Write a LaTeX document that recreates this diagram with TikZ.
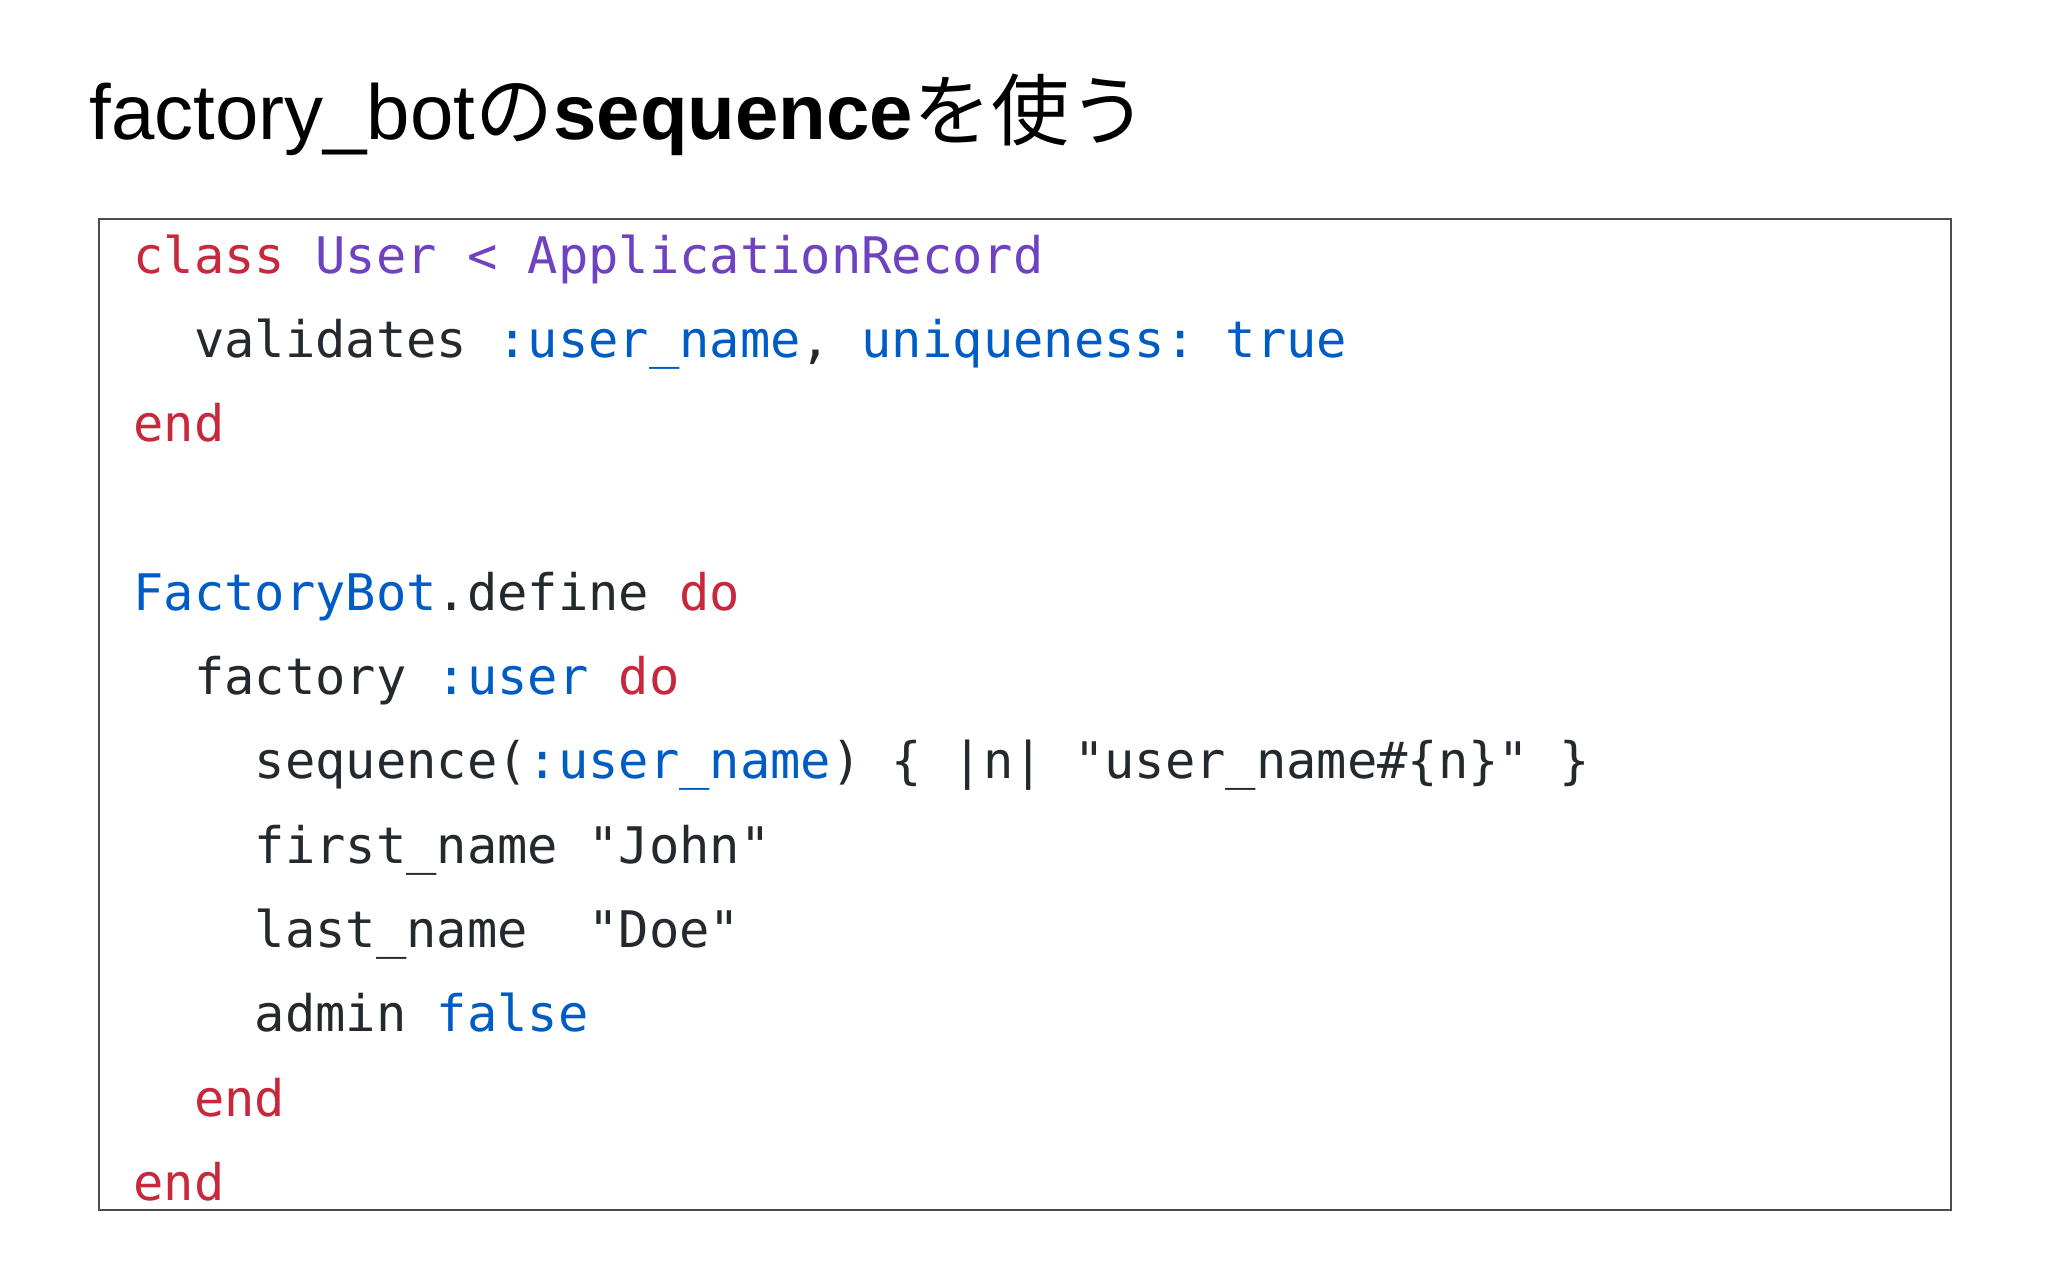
\documentclass[tikz,border=0pt]{standalone}
\usepackage{fontspec}
\setmainfont{Liberation Sans}
\setmonofont{DejaVu Sans Mono}
\newfontfamily\cjk{Noto Sans CJK JP}
\definecolor{kred}{HTML}{C8283C}
\definecolor{kpur}{HTML}{6F42C1}
\definecolor{kblu}{HTML}{005CC5}
\definecolor{ktxt}{HTML}{24292E}
\newcommand{\kR}[1]{\textcolor{kred}{#1}}
\newcommand{\kP}[1]{\textcolor{kpur}{#1}}
\newcommand{\kB}[1]{\textcolor{kblu}{#1}}
\begin{document}
\begin{tikzpicture}[x=0.5pt,y=-0.5pt,
  codeline/.style={anchor=base west,inner sep=0,text=ktxt,font=\fontsize{25.2}{30}\ttfamily}]
\useasboundingbox[fill=white] (0,0) rectangle (2048,1280);
\node[anchor=base west,inner sep=0,font=\fontsize{39}{47}\selectfont] (title) at (89,139)
  {factory\_bot{\cjk の}\textbf{sequence}{\cjk を使う}};
\node[draw=black!70,line width=1pt,minimum width=926pt,minimum height=495.5pt,anchor=north west,inner sep=0] (box) at (98,218) {};
\def\X{133}
\node[codeline] (l1) at (\X,273) {\kR{class}\ \kP{User}\ \kP{<}\ \kP{ApplicationRecord}};
\node[codeline] (l2) at (\X,357) {\ \ validates\ \kB{:user\_name},\ \kB{uniqueness:}\ \kB{true}};
\node[codeline] (l3) at (\X,441) {\kR{end}};
\node[codeline] (l5) at (\X,610) {\kB{FactoryBot}.define\ \kR{do}};
\node[codeline] (l6) at (\X,694) {\ \ factory\ \kB{:user}\ \kR{do}};
\node[codeline] (l7) at (\X,778) {\ \ \ \ sequence(\kB{:user\_name})\ \{\ |n|\ "user\_name\#\{n\}"\ \}};
\node[codeline] (l8) at (\X,863) {\ \ \ \ first\_name\ "John"};
\node[codeline] (l9) at (\X,947) {\ \ \ \ last\_name\ \ "Doe"};
\node[codeline] (l10) at (\X,1031) {\ \ \ \ admin\ \kB{false}};
\node[codeline] (l11) at (\X,1116) {\ \ \kR{end}};
\node[codeline] (l12) at (\X,1200) {\kR{end}};
\end{tikzpicture}
\end{document}
